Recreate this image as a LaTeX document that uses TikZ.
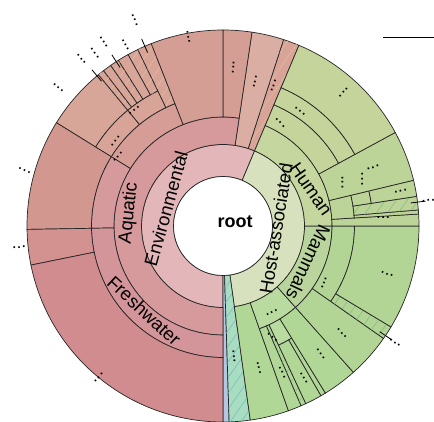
\documentclass[tikz,border=0pt]{standalone}
\usepackage{fontspec}
\setmainfont{Liberation Sans}
\usetikzlibrary{patterns.meta}
\definecolor{envc}{HTML}{E3B7B9}
\definecolor{aquac}{HTML}{D6999C}
\definecolor{freshc}{HTML}{D4959A}
\definecolor{freshleaf}{HTML}{D18C8F}
\definecolor{freshsm}{HTML}{D3928F}
\definecolor{salmc}{HTML}{D49E95}
\definecolor{salmlt}{HTML}{DBAEA3}
\definecolor{salmx}{HTML}{D69C96}
\definecolor{salmy}{HTML}{D8A497}
\definecolor{salmz}{HTML}{D7A699}
\definecolor{salmw}{HTML}{D2978F}
\definecolor{hostc}{HTML}{D8E1BD}
\definecolor{humc}{HTML}{C6D69F}
\definecolor{humleaf}{HTML}{BDD498}
\definecolor{humtop}{HTML}{C4D49B}
\definecolor{mamc}{HTML}{B9D59D}
\definecolor{mamleaf}{HTML}{B2D596}
\definecolor{othc}{HTML}{B1D797}
\definecolor{othlt}{HTML}{BADB9F}
\definecolor{mintc}{HTML}{A9DDC2}
\definecolor{bluec}{HTML}{B3C7E2}
\tikzset{>=latex}
\tikzset{seg/.style={draw=black!85, line width=0.7pt}}
\tikzset{hatch/.style={postaction={pattern={Lines[angle=55,distance=9pt,line width=0.5pt]},pattern color=#1}}}
\tikzset{lab/.style={font=\fontsize{18.5}{20}\selectfont, inner sep=0pt}}
\tikzset{more/.style={font=\fontsize{17}{17}\selectfont, inner sep=0pt}}
\newcommand{\ksect}[6][]{\draw[seg,fill=#6,#1] (#2:#4pt) arc[start angle=#2,end angle=#3,radius=#4pt] -- (#3:#5pt) arc[start angle=#3,end angle=#2,radius=#5pt] -- cycle;}
\newcommand{\kdots}[4]{\node[more,rotate=#4] (#1) at (#2:#3pt) {...};}
\newcommand{\ktick}[2]{\coordinate (#1a) at (#2:189pt); \coordinate (#1b) at (#2:204pt); \draw[line width=0.8pt] (#1a) -- (#1b);}

\begin{document}
\begin{tikzpicture}[x=1pt,y=1pt]
  \useasboundingbox (0,0) rectangle (434,421);
  \coordinate (keyl) at (383,383.7);
  \coordinate (keyr) at (434,383.7);
  \draw[line width=0.8pt] (keyl) -- (keyr);
  \begin{scope}[shift={(223,195)}]
    % first ring
    \ksect{67.2}{270}{49.5}{81.5}{envc}
    \ksect{-82}{67.2}{49.5}{81.5}{hostc}
    \ksect{-90}{-88.2}{49.5}{196}{bluec}
    \ksect[hatch=teal!55]{-88.2}{-82}{49.5}{196}{mintc}
    % Environmental
    \ksect[hatch=brown!50]{67.2}{72}{81.5}{196}{salmy}
    \ksect{72}{81.5}{81.5}{196}{salmlt}
    \ksect{81.5}{270}{81.5}{109}{aquac}
    % Aquatic
    \ksect{81.5}{90}{109}{196}{salmc}
    \ksect{90}{111.5}{109}{196}{salmc}
    \ksect{111.5}{148.2}{109}{131.5}{salmx}
    \ksect{148.2}{181}{109}{131.5}{aquac}
    \ksect{181}{270}{109}{131.5}{freshc}
    \ksect[hatch=brown!50]{111.5}{115.8}{131.5}{196}{salmy}
    \ksect{115.8}{129.5}{131.5}{150}{salmy}
    \ksect[hatch=brown!50]{115.8}{119}{150}{196}{salmy}
    \ksect{119}{122.3}{150}{196}{salmz}
    \ksect[hatch=brown!50]{122.3}{125}{150}{196}{salmy}
    \ksect{125}{127.6}{150}{196}{salmz}
    \ksect[hatch=brown!50]{127.6}{129.5}{150}{196}{salmy}
    \ksect{129.5}{148.2}{131.5}{150}{salmy}
    \ksect{129.5}{148.2}{150}{196}{salmz}
    \ksect{148.2}{181}{131.5}{196}{salmw}
    \ksect{181}{191.5}{131.5}{196}{freshsm}
    \ksect{191.5}{270}{131.5}{196}{freshleaf}
    % Host-associated
    \ksect{-82}{-70.5}{81.5}{196}{othc}
    \ksect{-70.5}{-48.3}{81.5}{109}{othlt}
    \ksect{-48.3}{0}{81.5}{109}{mamc}
    \ksect{0}{67.2}{81.5}{109}{humc}
    \ksect{-70.5}{-66.5}{109}{196}{othc}
    \ksect[hatch=green!45!black!50]{-66.5}{-65}{109}{196}{othc}
    \ksect{-65}{-58.5}{109}{131.5}{othlt}
    \ksect{-65}{-60}{131.5}{196}{othc}
    \ksect{-60}{-58.5}{131.5}{196}{othc}
    \ksect{-58.5}{-48.3}{109}{196}{othc}
    % Mammals
    \ksect{-48.3}{-35}{109}{196}{mamleaf}
    \ksect{-35}{0}{109}{131.5}{mamleaf}
    \ksect[hatch=green!45!black!50]{-35}{-31}{131.5}{196}{mamleaf}
    \ksect{-31}{0}{131.5}{196}{mamleaf}
    % Human
    \ksect{0}{3.5}{109}{196}{humleaf}
    \ksect{3.5}{13.5}{109}{131.5}{humleaf}
    \ksect{3.5}{4.7}{131.5}{196}{humleaf}
    \ksect[hatch=green!45!black!50]{4.7}{8.7}{131.5}{196}{humleaf}
    \ksect{8.7}{13.5}{131.5}{150}{humleaf}
    \ksect{8.7}{13.5}{150}{196}{humleaf}
    \ksect{13.5}{28.5}{109}{196}{humleaf}
    \ksect{28.5}{67.2}{109}{131.5}{humtop}
    \ksect{28.5}{67.2}{131.5}{150}{humtop}
    \ksect{28.5}{67.2}{150}{196}{humtop}
    % hole
    \draw[seg,fill=white] (0,0) circle (49.5pt);
    % labels
    \node[font=\fontsize{18}{18}\selectfont\bfseries, inner sep=0pt, anchor=base] (root) at (12,-1.3) {root};
    \node[lab,rotate=74.4] (envlab) at (-57,17) {Environmental};
    \node[lab,rotate=84] (aqualab) at (-94,13) {Aquatic};
    \node[lab,rotate=-43] (freshlab) at (-78.8,-84.8) {Freshwater};
    \node[lab,rotate=81] (hostlab) at (53,-2.3) {Host-associated};
    \node[lab,rotate=-55] (humlab) at (88,37) {Human};
    \node[lab,rotate=-115] (mamlab) at (85.3,-36.5) {Mammals};
    % collapsed children
    \kdots{d1}{77.5}{148}{77.5}
    \kdots{d2}{86.3}{159}{86.3}
    \kdots{d3}{70.2}{149}{70.2}
    \kdots{d4}{100.4}{192}{100.4}
    \kdots{d5}{127.5}{146}{36}
    \kdots{d6}{141.8}{137}{52}
    \kdots{d7}{146.6}{126}{50}
    \kdots{d8}{-85.2}{131}{-85}
    \kdots{d9}{-75.8}{146.5}{-76}
    \kdots{d10}{-60.6}{99.3}{30}
    \kdots{d11}{-68}{158}{-62}
    \kdots{d12}{-66}{121.5}{-40}
    \kdots{d13}{-61.9}{172}{-58}
    \kdots{d14}{-52.6}{161}{-54}
    \kdots{d15}{-42}{160}{-45}
    \kdots{d16}{-29.4}{116}{70}
    \kdots{d17}{-16.3}{171}{-18}
    \kdots{d18}{3}{160.5}{0}
    \kdots{d19}{20}{127}{90}
    \kdots{d20}{18.6}{147}{90}
    \kdots{d21}{21.3}{161}{21}
    \kdots{d22}{11.1}{181}{11}
    \kdots{d23}{61}{118}{-45}
    \kdots{d24}{56.2}{138.4}{-38}
    \kdots{d25}{48}{180}{49}
    % outside labels
    \ktick{t1}{113.5}
    \ktick{t2}{123}
    \ktick{t3}{130}
    \ktick{t4}{7}
    \ktick{t5}{-34}
    \kdots{o1}{113.2}{224}{113.2}
    \kdots{o2}{118.3}{206}{118.3}
    \kdots{o3}{123}{219}{123}
    \kdots{o4}{126.6}{215}{126.6}
    \kdots{o5}{130.3}{219}{130.3}
    \kdots{o6}{140}{215}{140}
    \kdots{o7}{164.4}{206}{160}
    \kdots{o8}{186}{205}{186}
    \kdots{o9}{230.6}{196}{230.6}
    \kdots{o10}{7.1}{207}{7.1}
    \kdots{o11}{-34.2}{208}{-34.2}
  \end{scope}
\end{tikzpicture}
\end{document}
